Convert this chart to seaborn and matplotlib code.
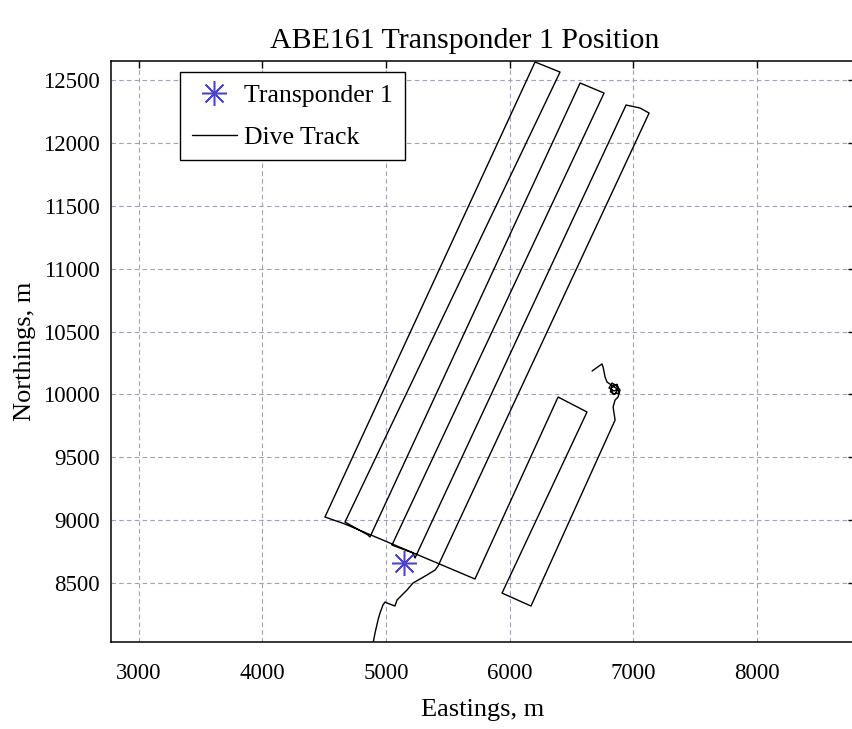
import matplotlib
matplotlib.use("Agg")
import matplotlib.pyplot as plt
import seaborn as sns
import pandas as pd

# Dive track vertices (Eastings / Northings, m)
track_east = [4888, 4896, 4912, 4936, 4952, 4976, 4993, 5009, 5073, 5090, 5170, 5219,
              5332, 5397, 5421, 7128, 7055, 6942, 5235, 5219, 5049, 6764, 6570, 4871,
              4855, 4669, 6408, 6206, 4507, 4669, 5720, 6392, 6626, 5939, 6173, 6853,
              6837, 6853, 6877, 6893, 6861, 6820, 6836, 6885, 6869, 6828, 6804, 6845,
              6880, 6870, 6830, 6815, 6850, 6875,
              6788, 6772, 6756, 6747, 6667]
track_north = [7967, 8023, 8102, 8206, 8261, 8325, 8349, 8341, 8317, 8365, 8444, 8500,
               8564, 8603, 8635, 12237, 12277, 12301, 8699, 8739, 8802, 12396, 12476, 8866,
               8882, 8985, 12563, 12643, 9025, 8969, 8532, 9979, 9860, 8420, 8317, 9796,
               9900, 9955, 9979, 10035, 10074, 10051, 10003, 10011, 10067, 10090, 10051, 10027,
               10045, 10080, 10070, 10020, 10000, 10040,
               10098, 10138, 10218, 10242, 10186]

transponder_east = [5147]
transponder_north = [8659]

x_ticks = [3000, 4000, 5000, 6000, 7000, 8000]
y_ticks = [8500, 9000, 9500, 10000, 10500, 11000, 11500, 12000, 12500]

track = pd.DataFrame({"Eastings": track_east, "Northings": track_north})
tp = pd.DataFrame({"Eastings": transponder_east, "Northings": transponder_north})

sns.set_theme(style="white")
plt.rcParams["font.family"] = ["Liberation Serif", "DejaVu Serif"]
plt.rcParams["text.color"] = "black"
plt.rcParams["axes.labelcolor"] = "black"

fig = plt.figure(figsize=(8.52, 7.29), dpi=100)
ax = fig.add_axes([111 / 852, 87 / 729, 744 / 852, 581 / 729])

sns.lineplot(data=track, x="Eastings", y="Northings", sort=False, estimator=None,
             color="black", linewidth=1.0, label="Dive Track", ax=ax)
ax.plot(tp["Eastings"], tp["Northings"], linestyle="none", marker=(8, 2, 0),
        markersize=18, markeredgewidth=1.1, color="#4b44c8", label="Transponder 1")

ax.set_xlim(2777, 8793)
ax.set_ylim(8031, 12651)
ax.set_xticks(x_ticks)
ax.set_yticks(y_ticks)

ax.grid(True, color="#a0a0b4", linestyle=(0, (4, 3)), linewidth=0.8)
for s in ax.spines.values():
    s.set_color("black")
    s.set_linewidth(1.1)
ax.tick_params(direction="in", length=5, width=1, top=True, right=True,
               labelsize=16.5, colors="black")
ax.tick_params(axis="x", pad=15)
ax.tick_params(axis="y", pad=8)

ax.set_xlabel("Eastings, m", fontsize=19, labelpad=11)
ax.set_ylabel("Northings, m", fontsize=19, labelpad=5)
ax.set_title("ABE161 Transponder 1 Position", fontsize=21.5, x=0.476, pad=9)

h, l = ax.get_legend_handles_labels()
order = [l.index("Transponder 1"), l.index("Dive Track")]
leg = ax.legend([h[i] for i in order], [l[i] for i in order],
                loc="upper left", bbox_to_anchor=((180 - 111) / 744, (642 - 72) / 581),
                fontsize=18.5, frameon=True, fancybox=False, edgecolor="black",
                framealpha=1, borderpad=0.45, labelspacing=0.75, handlelength=1.75,
                handletextpad=0.3, borderaxespad=0)
leg.get_frame().set_linewidth(1.0)

fig.savefig("out.png", dpi=100)
